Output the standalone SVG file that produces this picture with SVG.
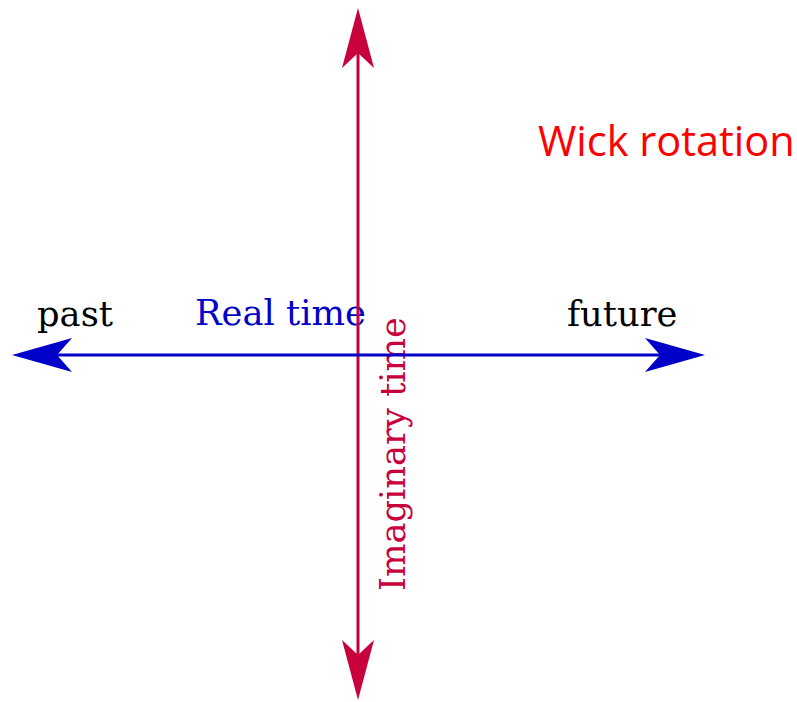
<svg xmlns="http://www.w3.org/2000/svg" width="797" height="702" viewBox="0 0 797 702">
<style>
.lbl{font-family:"DejaVu Serif",serif;font-size:35.3px}
.blue{stroke:#0000c8;stroke-width:3;fill:none}
.red{stroke:#c8003c;stroke-width:3;fill:none}
</style>
<rect width="797" height="702" fill="#fff"/>
<g id="label-past"><text class="lbl" x="37" y="326" fill="#000">past</text></g>
<g id="label-future"><text class="lbl" x="567" y="326" fill="#000">future</text></g>
<g id="label-real"><text class="lbl" x="195" y="325" fill="#0000c8">Real time</text></g>
<g id="label-imag"><text class="lbl" transform="translate(405,591) rotate(-90)" fill="#c8003c">Imaginary time</text></g>
<g id="title"><text x="538" y="156" font-family="'Open Sans',sans-serif" font-size="41.5" fill="#ff0000">Wick rotation</text></g>
<g id="connectors">
<line class="red" x1="358" y1="40" x2="358" y2="668"/>
<polygon fill="#c8003c" points="358,8 374,68 358,53 342,68"/>
<polygon fill="#c8003c" points="358,700 374,640 358,655 342,640"/>
<line class="blue" x1="40" y1="355" x2="680" y2="355"/>
<polygon fill="#0000c8" points="12,355 72,338 57,355 72,372"/>
<polygon fill="#0000c8" points="705,355 645,338 660,355 645,372"/>
</g>
</svg>
